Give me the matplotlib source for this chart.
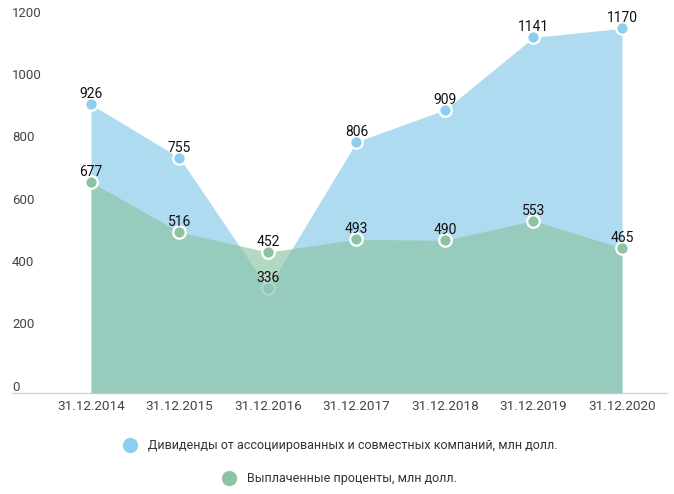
import matplotlib
matplotlib.use("Agg")
import matplotlib.pyplot as plt
from matplotlib.lines import Line2D

categories = ["31.12.2014", "31.12.2015", "31.12.2016", "31.12.2017",
              "31.12.2018", "31.12.2019", "31.12.2020"]
dividends = [926, 755, 336, 806, 909, 1141, 1170]
interest = [677, 516, 452, 493, 490, 553, 465]
yticks = [0, 200, 400, 600, 800, 1000, 1200]
series_names = ["Дивиденды от ассоциированных и совместных компаний, млн долл.",
                "Выплаченные проценты, млн долл."]

plt.rcParams['font.family'] = ['Roboto', 'DejaVu Sans']

blue = "#8ECDEB"
green = "#8BC3A3"

W, H = 674, 494
fig = plt.figure(figsize=(W / 100, H / 100), dpi=100)
ax = fig.add_axes([12 / W, (H - 393) / H, (667 - 12) / W, (393 - 19) / H])

x = list(range(len(categories)))
ax.fill_between(x, 0, dividends, color=blue, alpha=0.7, linewidth=0, zorder=1)
ax.plot(x, dividends, 'o', ms=9, mfc=blue, mec='white', mew=1.6, zorder=2)
ax.fill_between(x, 0, interest, color=green, alpha=0.65, linewidth=0, zorder=3)
ax.plot(x, interest, 'o', ms=9, mfc=green, mec='white', mew=1.6, zorder=4)

for xi, v in zip(x, dividends):
    ax.annotate(str(v), (xi, v), xytext=(0, 2.2), textcoords='offset points',
                ha='center', va='bottom', fontsize=10, color='#111111', zorder=6)
for xi, v in zip(x, interest):
    ax.annotate(str(v), (xi, v), xytext=(0, 2.2), textcoords='offset points',
                ha='center', va='bottom', fontsize=10, color='#111111', zorder=6)

x0 = (12 - 91) / 88.5
x1 = (667 - 91) / 88.5
ax.set_xlim(x0, x1)
ax.set_ylim(0, 1200)
ax.set_xticks(x)
ax.set_xticklabels(categories, fontsize=9.7, color='#444444')
ax.tick_params(axis='x', length=0, pad=5)
ax.set_yticks([])
for s in ['top', 'right', 'left']:
    ax.spines[s].set_visible(False)
ax.spines['bottom'].set_color('#D5D5D5')
ax.spines['bottom'].set_linewidth(1)

for t in yticks:
    ax.annotate(str(t), (0, t), xycoords=('axes fraction', 'data'),
                xytext=(0, -0.5), textcoords='offset points',
                ha='left', va='bottom', fontsize=9.5, color='#444444')

# legend
items = [(130, 445, 148, blue, series_names[0]), (229, 478, 247, green, series_names[1])]
for cx, cy, tx, col, name in items:
    fig.add_artist(Line2D([cx / W], [1 - cy / H], marker='o', ms=11, mfc=col,
                          mec='none', transform=fig.transFigure))
    fig.text(tx / W, 1 - cy / H, name, ha='left', va='center', fontsize=9, color='#333333')

fig.savefig("out.png", dpi=100)
